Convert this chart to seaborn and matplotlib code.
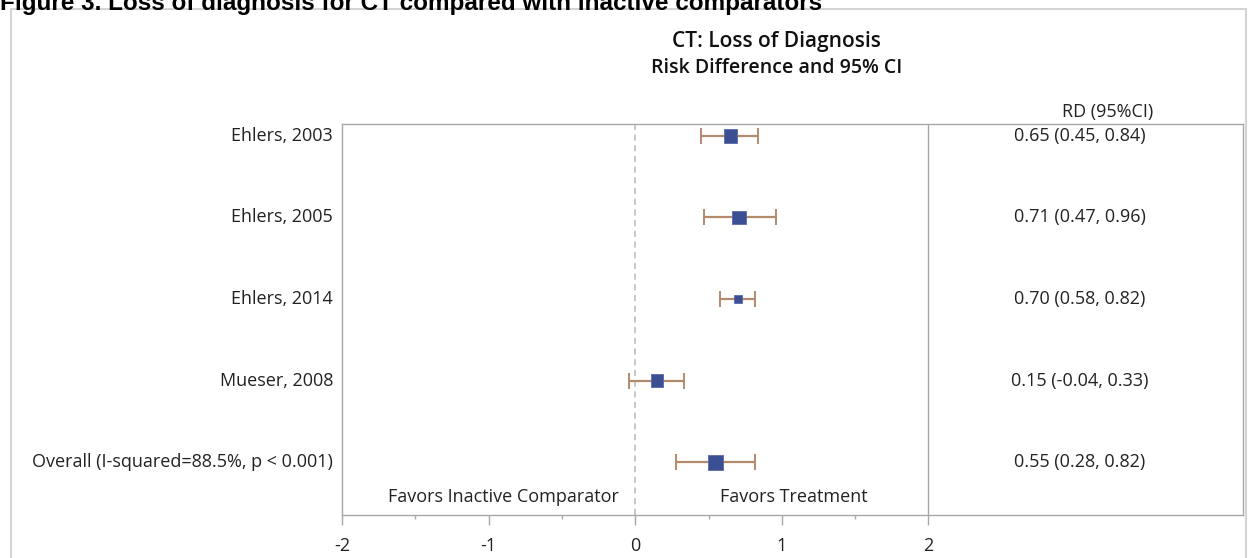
import matplotlib
matplotlib.use("Agg")
import matplotlib.pyplot as plt
from matplotlib.patches import Rectangle
import seaborn as sns
import pandas as pd

# Study-level risk differences with 95% confidence intervals
studies = ["Ehlers, 2003", "Ehlers, 2005", "Ehlers, 2014", "Mueser, 2008",
           "Overall (I-squared=88.5%, p < 0.001)"]
rd = [0.65, 0.71, 0.70, 0.15, 0.55]
ci_low = [0.45, 0.47, 0.58, -0.04, 0.28]
ci_high = [0.84, 0.96, 0.82, 0.33, 0.82]
weights = [26, 29, 12, 22.5, 33]
x_ticks = [-2, -1, 0, 1, 2]

df = pd.DataFrame({"study": studies, "rd": rd, "lo": ci_low, "hi": ci_high,
                   "w": weights})
df["row"] = range(len(df))

sns.set_theme(style="white")
plt.rcParams["font.family"] = ["Open Sans", "DejaVu Sans"]

fig = plt.figure(figsize=(12.48, 5.58), dpi=100)
W, H = 1248, 558
FS = 13
ink_txt = "#222222"

# outer frame below the caption
fig.patches.append(Rectangle((11 / W, -0.05), (1246 - 11) / W, 1 - 9 / H + 0.05,
                             transform=fig.transFigure, fill=False,
                             edgecolor="#d4d4d4", linewidth=1.5))
fig.text(0.0, 1 - 10 / H, "Figure 3. Loss of diagnosis for CT compared with inactive comparators",
         family="Liberation Sans", fontweight="bold", fontsize=17.5,
         ha="left", va="baseline", color="black")

ax = fig.add_axes([342 / W, 1 - 515 / H, (1243 - 342) / W, (515 - 124) / H])
ax.set_xlim(-2, 4.145)
ax.set_ylim(4.65, -0.147)

ink_err = "#b48a6c"
ink_box = "#3d4f93"

ax.axvline(0, color="#b8b8b8", linestyle=(0, (4, 3)), linewidth=1.1, zorder=1)
ax.axvline(2, color="#a8a8a8", linewidth=1.0, zorder=1)

ax.errorbar(df["rd"], df["row"],
            xerr=[df["rd"] - df["lo"], df["hi"] - df["rd"]],
            fmt="none", ecolor=ink_err, elinewidth=1.6, capsize=6,
            capthick=1.4, zorder=2)
sns.scatterplot(data=df, x="rd", y="row", size="w", sizes=(33, 117),
                marker="s", color=ink_box, edgecolor="#5a6aa8", linewidth=0.6,
                legend=False, ax=ax, zorder=3)

# labels on the left, estimates on the right
for r, name in zip(df["row"], df["study"]):
    ax.text(-2.06, r, name, ha="right", va="center", fontsize=FS, color=ink_txt)
for r, m, l, h in zip(df["row"], rd, ci_low, ci_high):
    ax.text(3.03, r, f"{m:.2f} ({l:.2f}, {h:.2f})", ha="center", va="center",
            fontsize=FS, color=ink_txt)
ax.text(3.22, -0.3, "RD (95%CI)", ha="center", va="center", fontsize=FS,
        color=ink_txt, clip_on=False)

ax.text(-0.90, 4.43, "Favors Inactive Comparator", ha="center", va="center",
        fontsize=FS, color=ink_txt)
ax.text(1.08, 4.43, "Favors Treatment", ha="center", va="center",
        fontsize=FS, color=ink_txt)

fig.text(776 / W, 1 - 42 / H, "CT: Loss of Diagnosis", ha="center", va="center",
         fontsize=15, fontweight="semibold", color="#111111")
fig.text(777 / W, 1 - 68 / H, "Risk Difference and 95% CI", ha="center",
         va="center", fontsize=14, fontweight="semibold", color="#111111")

ax.set_xticks(x_ticks)
ax.set_xticklabels([str(t) for t in x_ticks])
ax.set_xticks([t + 0.5 for t in x_ticks[:-1]], minor=True)
ax.set_yticks([])
ax.set_xlabel("")
ax.set_ylabel("")
ax.tick_params(axis="x", which="major", direction="out", length=7, width=1,
               color="#a8a8a8", labelsize=FS, pad=9, bottom=True,
               labelcolor=ink_txt)
ax.tick_params(axis="x", which="minor", direction="out", length=3, width=1,
               color="#a8a8a8", bottom=True)
for s in ax.spines.values():
    s.set_color("#a8a8a8")
    s.set_linewidth(1.0)

fig.savefig("out.png", dpi=100)
